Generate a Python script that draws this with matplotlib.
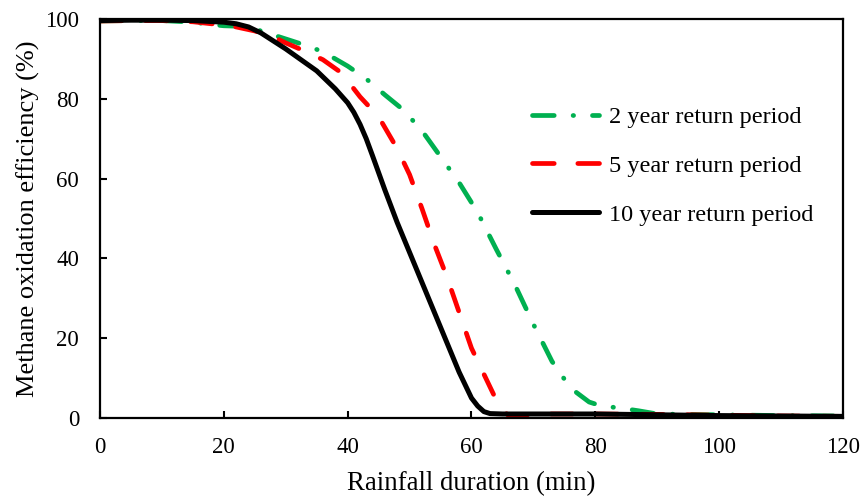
import matplotlib
matplotlib.use("Agg")
import matplotlib.pyplot as plt

plt.rcParams['font.family'] = ['Liberation Serif', 'DejaVu Serif']

# Rainfall duration (min) and methane oxidation efficiency (%)
x_2yr = [0, 5, 10, 15, 18, 20, 22, 25, 28, 30, 33, 36, 40, 43, 46, 49, 52, 55,
         58, 61, 64, 67, 70, 73, 76, 79, 81, 84, 87, 90, 100, 110, 120]
y_2yr = [99.5, 99.6, 99.6, 99.2, 98.6, 98.3, 98.2, 97.5, 96.0, 95.0, 93.5, 91.8,
         88.2, 85.0, 81.0, 77.2, 72.0, 65.5, 59.0, 51.5, 42.3, 33.4, 23.5, 14.2,
         7.5, 4.0, 3.0, 2.5, 1.8, 1.0, 0.8, 0.6, 0.5]

x_5yr = [0, 5, 10, 15, 18, 20, 22, 25, 28, 30, 33, 36, 39, 42, 45, 48, 50, 52,
         54, 56, 58, 60, 62, 64, 65, 66, 68, 70, 80, 90, 100, 110, 120]
y_5yr = [99.5, 99.6, 99.6, 99.3, 98.8, 98.4, 98.0, 97.0, 95.5, 94.0, 92.0, 89.8,
         86.5, 80.5, 75.5, 67.5, 61.0, 52.5, 43.5, 35.5, 26.5, 17.5, 11.0, 4.5,
         2.0, 0.6, 0.5, 1.0, 1.0, 0.9, 0.7, 0.5, 0.4]

x_10yr = [0, 5, 10, 15, 20, 22, 24, 26, 28, 30, 32, 35, 38, 40, 41, 42, 43, 44,
          46, 48, 50, 52, 54, 56, 58, 60, 61, 62, 63, 65, 70, 80, 90, 100, 110, 120]
y_10yr = [99.6, 99.7, 99.7, 99.6, 99.2, 98.8, 98.0, 96.5, 94.5, 92.5, 90.3, 87.0,
          82.5, 79.0, 76.6, 73.6, 70.0, 65.8, 57.2, 49.0, 41.5, 34.0, 26.5, 19.0,
          11.5, 5.0, 3.0, 1.6, 1.1, 1.0, 1.0, 1.0, 0.8, 0.6, 0.5, 0.4]

labels = ['2 year return period', '5 year return period', '10 year return period']

fig = plt.figure(figsize=(8.64, 4.97), dpi=100)
ax = fig.add_axes([0.1157, 0.159, 0.86, 0.8028])

ax.plot(x_2yr, y_2yr, color='#00B050', lw=3.4, linestyle=(0, (4.6, 4.0, 0.1, 4.0)),
        dash_capstyle='round', label=labels[0])
ax.plot(x_5yr, y_5yr, color='#FF0000', lw=3.4, linestyle=(0, (4.6, 5.0)),
        dash_capstyle='round', label=labels[1])
ax.plot(x_10yr, y_10yr, color='black', lw=3.6, solid_capstyle='round',
        solid_joinstyle='round', label=labels[2])

ax.set_xlim(0, 120)
ax.set_ylim(0, 100)
ax.set_xticks(range(0, 121, 20))
ax.set_yticks(range(0, 101, 20))
ax.tick_params(direction='in', length=5, width=1.5, labelsize=16.5)
ax.tick_params(axis='x', pad=14)
ax.tick_params(axis='y', pad=15)
for s in ax.spines.values():
    s.set_linewidth(1.6)

ax.set_xlabel('Rainfall duration (min)', fontsize=19.3, labelpad=9)
ax.set_ylabel('Methane oxidation efficiency (%)', fontsize=19, labelpad=4)

ax.legend(loc='center left', bbox_to_anchor=(0.6155, 0.666), bbox_transform=fig.transFigure,
          frameon=False, fontsize=17.5, handlelength=2.75, labelspacing=1.1,
          handletextpad=0.42, borderpad=0, borderaxespad=0)

fig.savefig('out.png', dpi=100)
